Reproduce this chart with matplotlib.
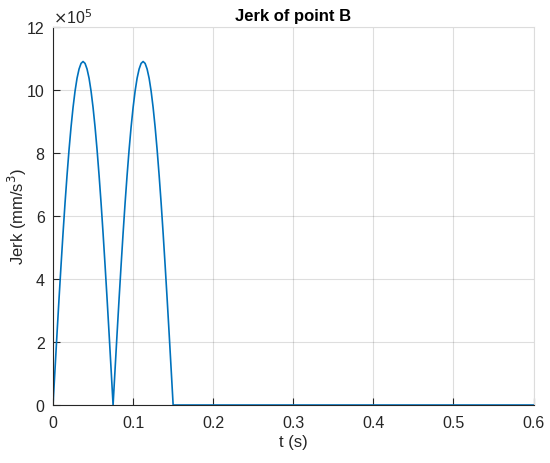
import numpy as np
import matplotlib.pyplot as plt

plt.rcParams['font.family'] = ['Liberation Sans', 'DejaVu Sans']

# jerk samples (x1e5 mm/s^3), 2.5 ms step
t_hump = [0.0, 0.0025, 0.005, 0.0075, 0.01, 0.0125, 0.015, 0.0175, 0.02,
          0.0225, 0.025, 0.0275, 0.03, 0.0325, 0.035, 0.0375, 0.04, 0.0425,
          0.045, 0.0475, 0.05, 0.0525, 0.055, 0.0575, 0.06, 0.0625, 0.065,
          0.0675, 0.07, 0.0725]
jerk_hump = [0.0, 1.14, 2.27, 3.37, 4.43, 5.45, 6.41, 7.29, 8.10, 8.82,
             9.44, 9.96, 10.37, 10.66, 10.84, 10.90, 10.84, 10.66, 10.37,
             9.96, 9.44, 8.82, 8.10, 7.29, 6.41, 5.45, 4.43, 3.37, 2.27, 1.14]

t_rest = [0.15, 0.6]
jerk_rest = [0.0, 0.0]

t = np.concatenate([t_hump, np.array(t_hump) + 0.075, t_rest])
jerk = np.concatenate([jerk_hump, jerk_hump, jerk_rest]) * 1e5

fig = plt.figure(figsize=(5.5, 4.64), dpi=100)
ax = fig.add_axes([0.0964, 0.125, 0.8736, 0.815])

ax.plot(t, jerk, color='#0072BD', linewidth=1.2)

ax.set_xlim(0, 0.6)
ax.set_ylim(0, 12e5)
ax.set_xticks([0, 0.1, 0.2, 0.3, 0.4, 0.5, 0.6])
ax.set_xticklabels(['0', '0.1', '0.2', '0.3', '0.4', '0.5', '0.6'])
ax.set_yticks(np.arange(0, 13, 2) * 1e5)
ax.set_yticklabels([str(v) for v in range(0, 13, 2)])

ax.grid(True, color='#262626', alpha=0.15, linewidth=0.8)
ax.set_axisbelow(True)
ax.tick_params(direction='in', length=5, width=0.8, colors='#262626',
               labelsize=11.5, top=False, right=False)
ax.tick_params(axis='x', pad=7)
ax.tick_params(axis='y', pad=6)
for side in ['left', 'bottom']:
    ax.spines[side].set_color('#262626')
    ax.spines[side].set_linewidth(0.8)
for side in ['top', 'right']:
    ax.spines[side].set_color('#dcdcdc')
    ax.spines[side].set_linewidth(0.8)

ax.text(0.0, 1.003, r'$\times$10$^{5}$', transform=ax.transAxes,
        fontsize=11.5, ha='left', va='bottom', color='#262626')

ax.set_title('Jerk of point B', fontsize=12, fontweight='bold', pad=5)
ax.set_xlabel('t (s)', fontsize=12, color='#262626', labelpad=3)
ax.set_ylabel('Jerk (mm/s$^3$)', fontsize=12, color='#262626')
ax.yaxis.set_label_coords(-0.05, 0.5)

fig.savefig('out.png', dpi=100)
